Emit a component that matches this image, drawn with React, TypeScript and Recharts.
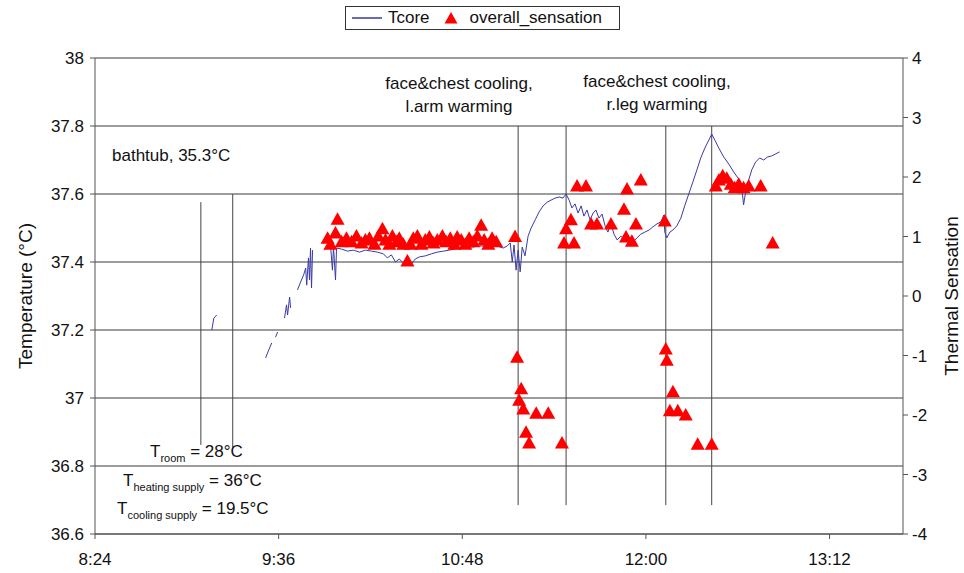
import React from "react";
import { ComposedChart, Line, Scatter, XAxis, YAxis, CartesianGrid, ReferenceLine } from "recharts";

// time in minutes after midnight; null marks a gap in the logger record
const tcoreTime = [
  549.8, 550.6, 551.7, 560,
  570.9, 572.1, 573.3, 574.0,
  574.8, 575.6, 577,
  578.3, 579.1, 579.5, 580.3, 580.7, 582,
  583.4, 584.6, 585.8, 586.6, 587.0, 587.7, 588.1, 588.5, 588.9, 589.3, 592,
  594.0, 595.2, 596.3, 597.1, 597.5, 598.3, 598.7, 600.7, 603.0, 605.3, 607.7, 610.0, 612.4, 614.7,
  617.1, 618.6, 620.2, 621.8, 623.3, 624.9, 626.5, 628.0, 629.6, 631.2, 633.5, 635.9, 638.2, 640.6,
  642.9, 645.3, 647.6, 650.0, 652.3, 654.7, 657.0, 659.3, 661.7, 664.0, 665.6, 666.8, 667.6, 668.3,
  669.1, 669.9, 670.7, 671.5, 672.6, 673.8, 675.0, 676.6, 678.1, 679.7, 681.3, 682.8, 684.4, 686.0,
  687.5, 688.7, 689.9, 691.0, 692.2, 693.4, 694.6, 695.7, 696.9, 698.1, 699.3, 700.4, 701.6, 702.8,
  704.0, 705.1, 706.3, 707.5, 708.7, 710.2, 711.8, 713.3, 714.9, 716.5, 718.0, 719.6, 721.2, 722.7,
  724.3, 725.9, 727.0, 727.4, 728.2, 729.4, 730.6, 732.1, 733.7, 735.2, 736.8, 738.4, 740.0, 741.5,
  743.1, 744.7, 745.8, 747.0, 748.6, 750.5, 752.5, 754.4, 756.4, 757.6, 758.3, 759.1, 760.3, 761.5,
  763.0, 764.6, 766.2, 767.7, 769.3, 770.9, 772.4,
];
const tcoreTemp = [
  37.2, 37.235, 37.244, null,
  37.118, 37.141, 37.162, null,
  37.179, 37.194, null,
  37.235, 37.274, 37.244, 37.297, 37.265, null,
  37.318, 37.341, 37.362, 37.382, 37.332, 37.412, 37.347, 37.441, 37.324, 37.435, null,
  37.435, 37.447, 37.453, 37.376, 37.447, 37.347, 37.441, 37.438, 37.432, 37.435, 37.429, 37.435, 37.432, 37.429,
  37.424, 37.412, 37.421, 37.4, 37.409, 37.397, 37.406, 37.394, 37.409, 37.415, 37.418, 37.424, 37.429, 37.432,
  37.435, 37.438, 37.441, 37.444, 37.444, 37.447, 37.447, 37.444, 37.447, 37.441, 37.447, 37.456, 37.4, 37.45,
  37.376, 37.435, 37.371, 37.444, 37.418, 37.476, 37.5, 37.524, 37.547, 37.565, 37.576, 37.582, 37.588, 37.591,
  37.588, 37.6, 37.582, 37.559, 37.571, 37.544, 37.565, 37.535, 37.553, 37.524, 37.544, 37.553, 37.529, 37.541,
  37.506, 37.488, 37.512, 37.482, 37.465, 37.476, 37.465, 37.471, 37.459, 37.471, 37.482, 37.488, 37.494, 37.503,
  37.512, 37.518, 37.538, 37.488, 37.471, 37.488, 37.494, 37.506, 37.529, 37.565, 37.6, 37.635, 37.671, 37.706,
  37.735, 37.759, 37.776, 37.759, 37.735, 37.709, 37.688, 37.665, 37.644, 37.618, 37.568, 37.606, 37.641, 37.671,
  37.694, 37.706, 37.7, 37.709, 37.712, 37.718, 37.724,
];

const sensTime = [
  595.2, 596.3, 598.3, 599.1, 600.7, 602.6, 604.6, 606.5, 608.5, 610.0, 611.6, 613.6, 615.1, 616.7,
  617.9, 619.4, 620.6, 622.2, 623.3, 624.9, 626.5, 627.7, 628.8, 630.4, 632.0, 633.5, 635.1, 636.7,
  638.2, 640.2, 641.7, 643.3, 644.9, 646.0, 647.6, 649.2, 650.7, 652.3, 653.9, 655.4, 656.6, 658.2,
  659.7, 661.3, 668.7,
  687.9, 688.7, 690.6, 691.8, 693.0, 696.5, 698.5, 700.8, 706.3, 711.4, 712.2, 712.6, 714.5, 716.1,
  718.0, 727.4,
  747.4, 748.6, 750.1, 751.7, 753.3, 754.8, 756.4, 758.3, 760.3, 765.0, 769.7,
  669.5, 670.3, 671.1, 671.9, 673.0, 674.2, 677.0, 681.7, 687.1,
  727.8, 728.2, 729.4, 730.6, 732.5, 735.6, 740.3, 745.8,
];
const sensValue = [
  0.97, 0.87, 1.06, 1.29, 0.91, 0.97, 0.91, 1.01, 0.89, 0.94, 0.97, 0.87, 1.01, 1.13,
  0.94, 0.87, 1.01, 0.91, 0.97, 0.87, 0.59, 0.87, 0.97, 1.01, 0.87, 0.94, 0.99, 0.89,
  0.94, 1.01, 0.91, 0.97, 0.87, 0.99, 0.94, 0.87, 0.97, 0.91, 1.01, 1.19, 0.94, 0.87,
  0.97, 0.91, 1.0,
  0.89, 1.13, 1.28, 0.89, 1.85, 1.85, 1.21, 1.21, 1.21, 1.46, 0.99, 1.8, 0.92, 1.21,
  1.95, 1.26,
  1.85, 1.95, 2.02, 1.98, 1.88, 1.82, 1.88, 1.82, 1.85, 1.85, 0.89,
  -1.03, -1.75, -1.56, -1.9, -2.29, -2.47, -1.97, -1.97, -2.47,
  -0.89, -1.08, -1.93, -1.61, -1.93, -2.0, -2.49, -2.49,
];

// manually drawn event markers
const eventTime = [545.5, 558.0, 669.9, 688.7, 727.8, 745.8];
const eventTop = [37.576, 37.6, 37.8, 37.8, 37.8, 37.8];
const eventBottom = [36.862, 36.856, 36.685, 36.685, 36.685, 36.685];

const timeTicks = [504, 576, 648, 720, 792];
const tempTicks = [36.6, 36.8, 37, 37.2, 37.4, 37.6, 37.8, 38];
const sensTicks = [-4, -3, -2, -1, 0, 1, 2, 3, 4];

const tcoreData = tcoreTime.map((t, i) => ({ t, tcore: tcoreTemp[i] }));
const sensData = sensTime.map((t, i) => ({ t, s: sensValue[i] }));

const FONT = "'Liberation Sans', Arial, sans-serif";
const AXIS = "#555";

const fmtTime = (m: number) => `${Math.floor(m / 60)}:${String(Math.round(m % 60)).padStart(2, "0")}`;

const Triangle = (props: any) => {
  const { cx, cy } = props;
  if (cx == null || cy == null) return null;
  return <polygon points={`${cx},${cy - 7} ${cx + 7},${cy + 5.5} ${cx - 7},${cy + 5.5}`} fill="#ff0000" />;
};

const Note = ({ x, y, children, center }: any) => (
  <div
    style={{
      position: "absolute",
      left: x,
      top: y,
      transform: center ? "translate(-50%, -50%)" : "translate(0, -50%)",
      whiteSpace: "nowrap",
      fontSize: 17,
      lineHeight: "23px",
      textAlign: "center",
      color: "#111",
    }}
  >
    {children}
  </div>
);

const Sub = ({ children }: any) => (
  <span style={{ fontSize: 11, position: "relative", top: 5 }}>{children}</span>
);

export default function App() {
  const tickStyle = { fontSize: 17, fill: "#111", fontFamily: FONT };
  return (
    <div style={{ position: "absolute", left: 0, top: 0, width: 964, height: 573, background: "#fff", fontFamily: FONT }}>
      <ComposedChart width={964} height={573} margin={{ top: 58, right: 21, bottom: 9, left: 35 }}>
        <CartesianGrid yAxisId="temp" vertical={false} stroke="#3a3a3a" strokeWidth={1} />
        <XAxis
          type="number"
          dataKey="t"
          domain={[504, 820.8]}
          ticks={timeTicks}
          tickFormatter={fmtTime}
          allowDataOverflow
          height={30}
          tickSize={5}
          tickMargin={14}
          stroke={AXIS}
          tick={tickStyle}
        />
        <YAxis
          yAxisId="temp"
          domain={[36.6, 38]}
          ticks={tempTicks}
          tickFormatter={(v: number) => String(Number(v.toFixed(1)))}
          allowDataOverflow
          width={60}
          tickSize={5}
          tickMargin={6}
          stroke={AXIS}
          tick={tickStyle}
        />
        <YAxis
          yAxisId="sens"
          orientation="right"
          domain={[-4, 4]}
          ticks={sensTicks}
          allowDataOverflow
          width={40}
          tickSize={5}
          tickMargin={4}
          stroke={AXIS}
          tick={{ ...tickStyle, textAnchor: "start" }}
        />
        {eventTime.map((t, i) => (
          <ReferenceLine
            key={i}
            yAxisId="temp"
            segment={[{ x: t, y: eventTop[i] }, { x: t, y: eventBottom[i] }]}
            stroke="#444"
            strokeWidth={1}
          />
        ))}
        <Line
          yAxisId="temp"
          data={tcoreData}
          dataKey="tcore"
          stroke="#3a3aa6"
          strokeWidth={1}
          dot={false}
          connectNulls={false}
          isAnimationActive={false}
        />
        <Scatter yAxisId="sens" data={sensData} dataKey="s" shape={Triangle} isAnimationActive={false} />
      </ComposedChart>

      <div
        style={{
          position: "absolute", left: 345, top: 6, width: 275, height: 24, border: "1px solid #333",
          display: "flex", alignItems: "center", fontSize: 17, color: "#111", boxSizing: "border-box",
        }}
      >
        <svg width={36} height={10} style={{ marginLeft: 6 }}>
          <line x1={0} y1={5} x2={30} y2={5} stroke="#3a3aa6" strokeWidth={1.5} />
        </svg>
        <span>Tcore</span>
        <svg width={26} height={14} style={{ marginLeft: 14 }}>
          <polygon points="7,1 13.5,12.5 0.5,12.5" fill="#ff0000" />
        </svg>
        <span>overall_sensation</span>
      </div>

      <Note x={459} y={95} center>
        face&amp;chest cooling,<br />l.arm warming
      </Note>
      <Note x={657} y={93} center>
        face&amp;chest cooling,<br />r.leg warming
      </Note>
      <Note x={112} y={155}>bathtub, 35.3°C</Note>
      <Note x={150} y={452}>T<Sub>room</Sub> = 28°C</Note>
      <Note x={123} y={481}>T<Sub>heating supply</Sub> = 36°C</Note>
      <Note x={117} y={509}>T<Sub>cooling supply</Sub> = 19.5°C</Note>

      <div
        style={{
          position: "absolute", left: 26, top: 296, transform: "translate(-50%, -50%) rotate(-90deg)",
          whiteSpace: "nowrap", fontSize: 19, color: "#111",
        }}
      >
        Temperature (°C)
      </div>
      <div
        style={{
          position: "absolute", left: 952, top: 296, transform: "translate(-50%, -50%) rotate(-90deg)",
          whiteSpace: "nowrap", fontSize: 19, color: "#111",
        }}
      >
        Thermal Sensation
      </div>
    </div>
  );
}
